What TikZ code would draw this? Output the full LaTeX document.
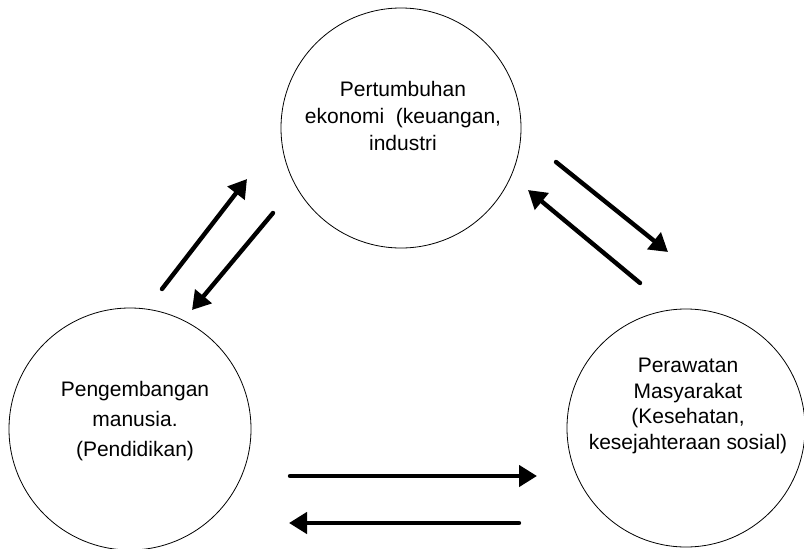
\documentclass[tikz,border=0pt]{standalone}
\usepackage{fontspec}
\setmainfont{Liberation Sans}
\usetikzlibrary{arrows.meta}
\begin{document}
\begin{tikzpicture}[x=1pt,y=-1pt,
  ring/.style={draw=black,line width=0.8pt,circle,inner sep=0pt},
  txt/.style={align=center,inner sep=0pt,anchor=north},
  flow/.style={line width=4.4pt,line cap=round,-{Triangle[length=18pt,width=21pt]}}]
\useasboundingbox (0,0) rectangle (804,549);
\fill[white] (0,0) rectangle (804,549);
% circles
\node[ring,minimum size=240pt] (top) at (401,128) {};
\node[ring,minimum size=242pt] (left) at (130,429) {};
\node[ring,minimum size=238pt] (right) at (686,428) {};
% texts
\node[txt,font=\fontsize{21}{27}\selectfont] (toptxt) at (403,81) {Pertumbuhan\\ekonomi\ \ (keuangan,\\industri};
\node[txt,font=\fontsize{21}{30}\selectfont] (lefttxt) at (135,381) {Pengembangan\\manusia.\\(Pendidikan)};
\node[txt,font=\fontsize{21}{25.5}\selectfont] (righttxt) at (688,358) {Perawatan\\Masyarakat\\(Kesehatan,\\kesejahteraan\ sosial)};
% arrow end points
\coordinate (a1s) at (162,289); \coordinate (a1e) at (247,179);
\coordinate (a2s) at (273,213); \coordinate (a2e) at (192,310);
\coordinate (a3s) at (556,162); \coordinate (a3e) at (668,252);
\coordinate (a4s) at (640,283); \coordinate (a4e) at (528,190);
\coordinate (a5s) at (290,476); \coordinate (a5e) at (537,476);
\coordinate (a6s) at (519,523); \coordinate (a6e) at (289,523);
\draw[flow] (a1s) -- (a1e);
\draw[flow] (a2s) -- (a2e);
\draw[flow] (a3s) -- (a3e);
\draw[flow] (a4s) -- (a4e);
\draw[flow] (a5s) -- (a5e);
\draw[flow] (a6s) -- (a6e);
\end{tikzpicture}
\end{document}
